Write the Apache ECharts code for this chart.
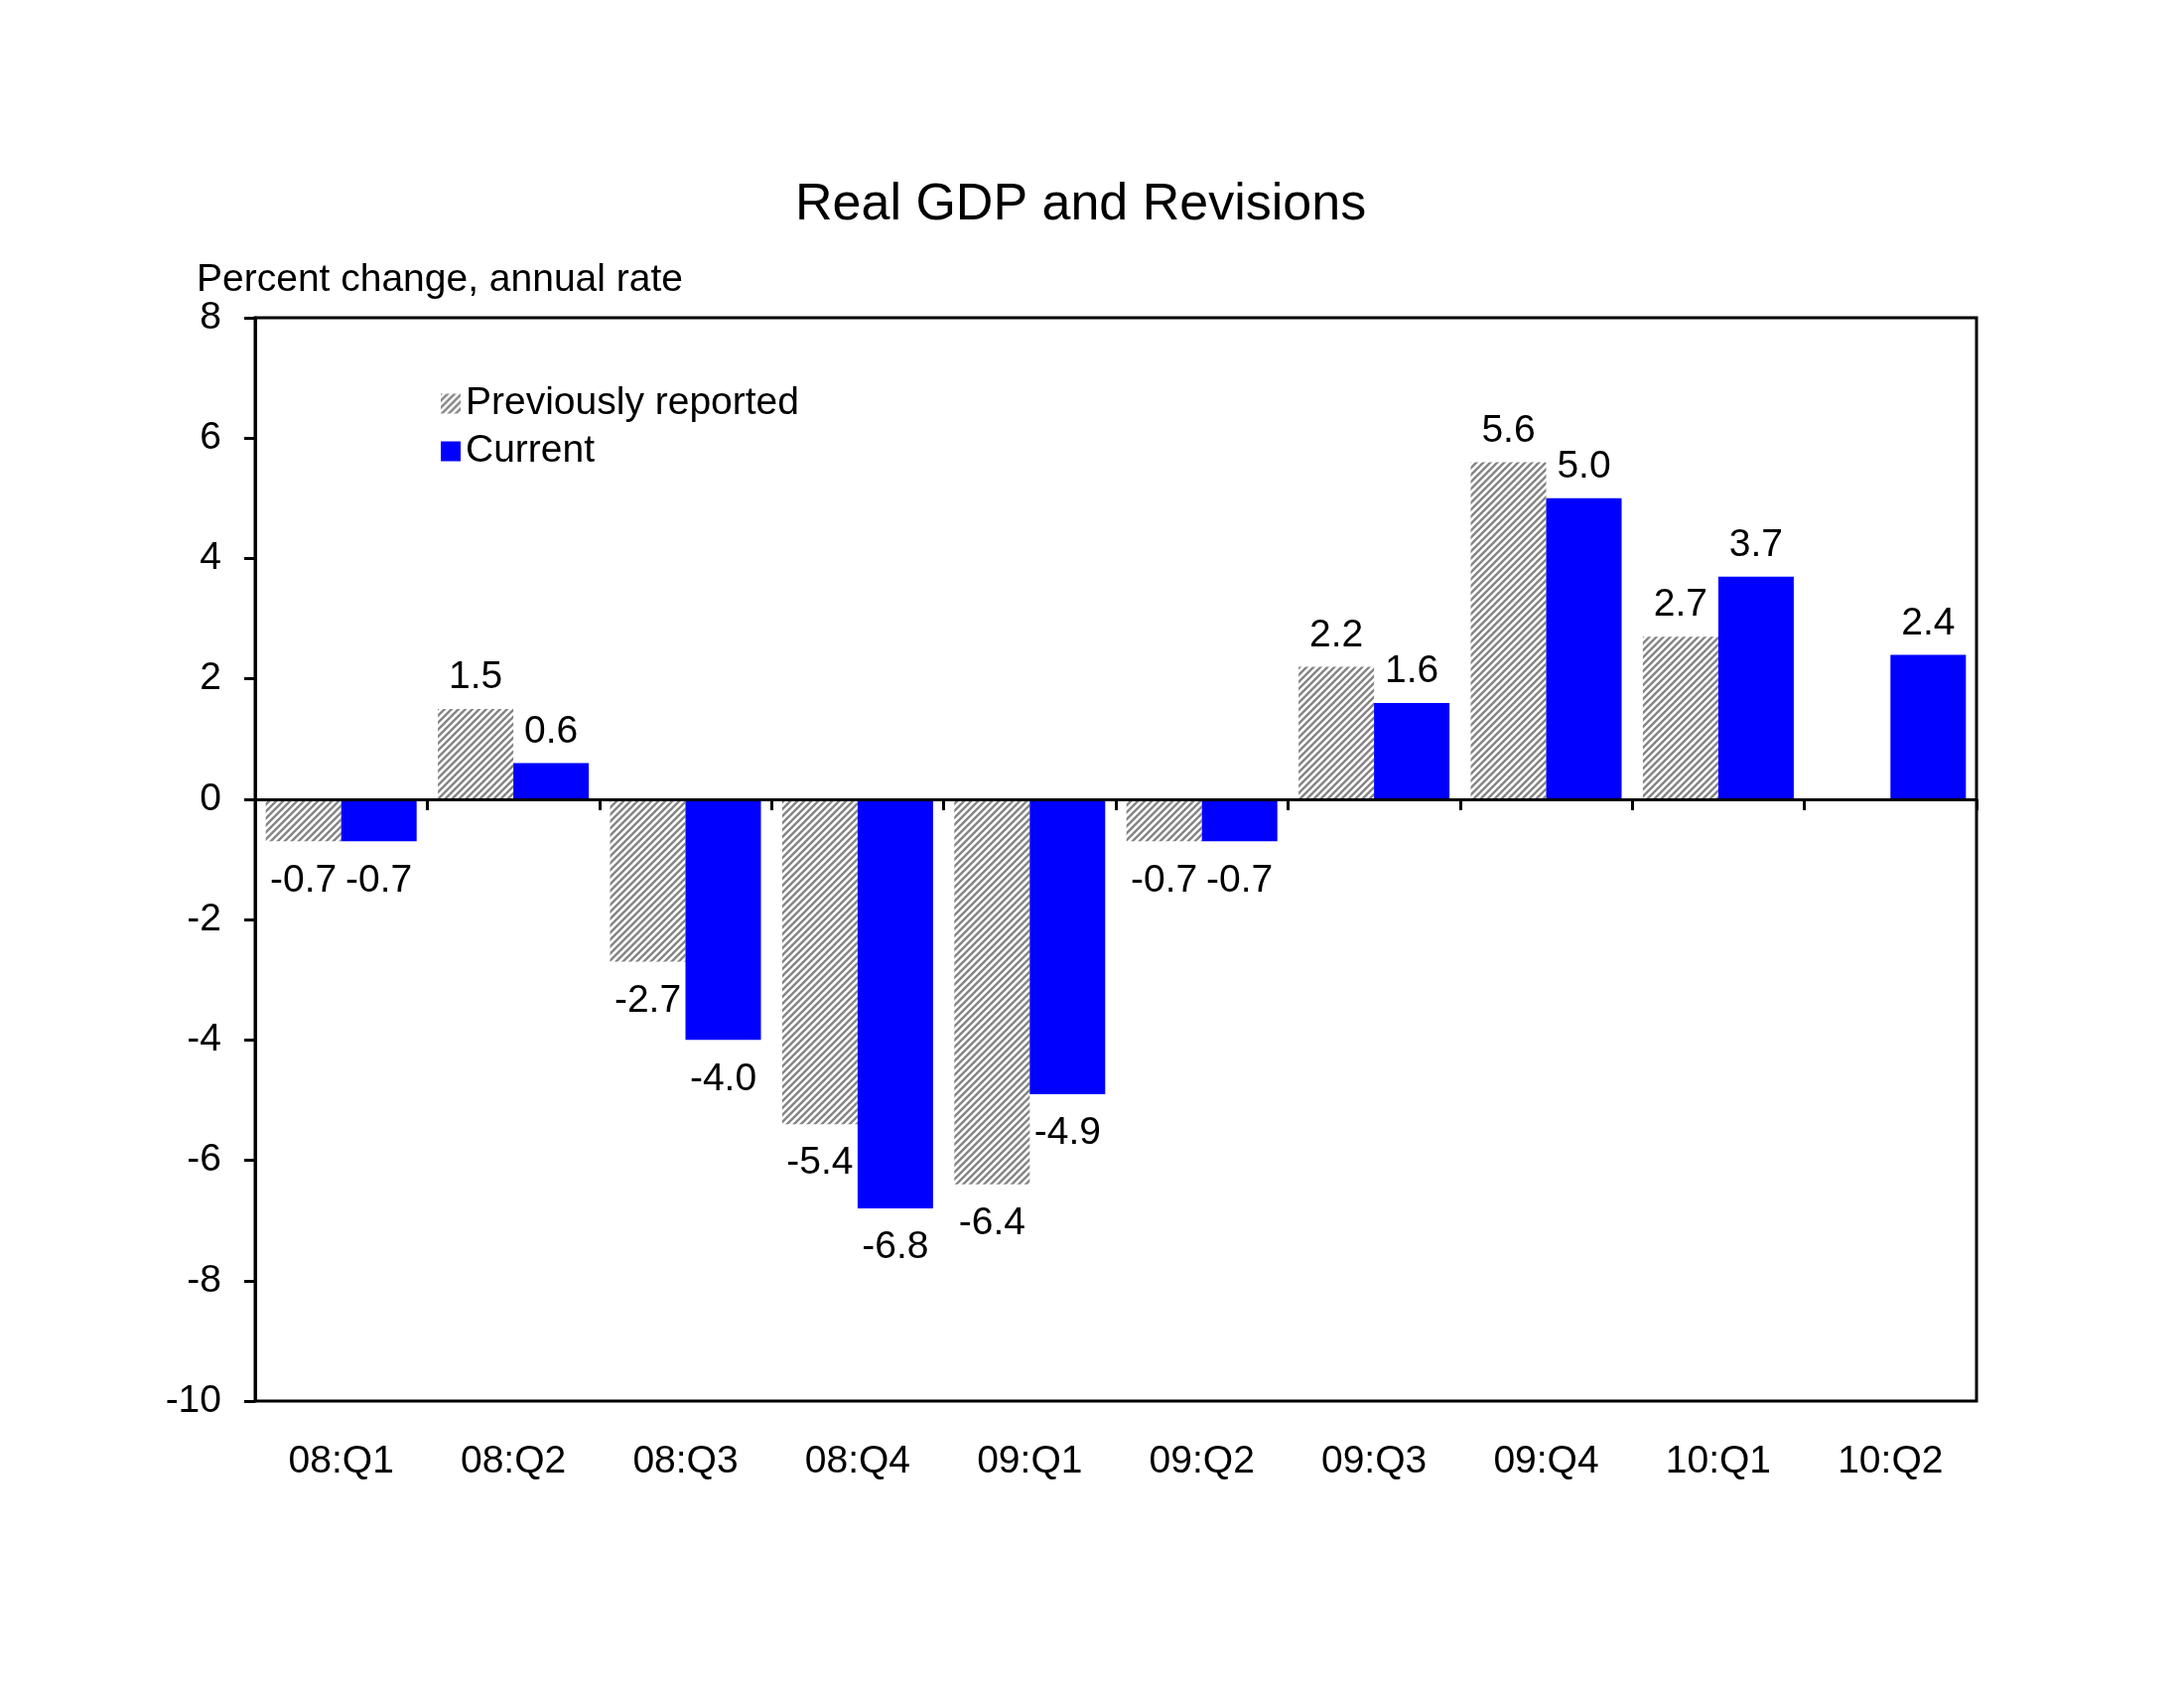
<!DOCTYPE html>
<html>
<head>
<meta charset="utf-8">
<script src="https://cdn.jsdelivr.net/npm/echarts@6/dist/echarts.min.js"></script>
<style>
html,body{margin:0;padding:0;background:#fff;}
#c{width:2200px;height:1700px;}
</style>
</head>
<body>
<div id="c"></div>
<script>
const categories = ['08:Q1','08:Q2','08:Q3','08:Q4','09:Q1','09:Q2','09:Q3','09:Q4','10:Q1','10:Q2'];
const previous = [-0.7, 1.5, -2.7, -5.4, -6.4, -0.7, 2.2, 5.6, 2.7, null];
const current = [-0.7, 0.6, -4.0, -6.8, -4.9, -0.7, 1.6, 5.0, 3.7, 2.4];
const yTicks = [-10, -8, -6, -4, -2, 0, 2, 4, 6, 8];

const FONT = 'Liberation Sans, Arial, sans-serif';

function hatch() {
  const s = 7;
  const cv = document.createElement('canvas');
  cv.width = s; cv.height = s;
  const ctx = cv.getContext('2d');
  ctx.fillStyle = '#ffffff';
  ctx.fillRect(0, 0, s, s);
  ctx.strokeStyle = '#858585';
  ctx.lineWidth = 2.4;
  ctx.beginPath();
  ctx.moveTo(-1, 1); ctx.lineTo(1, -1);
  ctx.moveTo(0, s); ctx.lineTo(s, 0);
  ctx.moveTo(s - 1, s + 1); ctx.lineTo(s + 1, s - 1);
  ctx.stroke();
  return { image: cv, repeat: 'repeat' };
}

function toItems(arr) {
  return arr.map(v => {
    if (v === null) return { value: null, label: { show: false } };
    return {
      value: v,
      label: { position: v >= 0 ? 'top' : 'bottom', distance: v >= 0 ? 12 : 20 }
    };
  });
}

const labelStyle = {
  show: true,
  color: '#000',
  fontFamily: FONT,
  fontSize: 39,
  formatter: p => p.value == null ? '' : Number(p.value).toFixed(1)
};

const chart = echarts.init(document.getElementById('c'), null, { renderer: 'canvas' });
chart.setOption({
  backgroundColor: '#ffffff',
  animation: false,
  textStyle: { fontFamily: FONT },
  graphic: [
    { type: 'text', left: 1092 - 291, top: 203 - 22,
      style: { text: 'Real GDP and Revisions', font: '52px ' + FONT, fill: '#000' } },
    { type: 'text', left: 198, top: 279 - 16,
      style: { text: 'Percent change, annual rate', font: '39px ' + FONT, fill: '#000' } }
  ],
  legend: {
    orient: 'vertical',
    left: 439,
    top: 382,
    itemWidth: 20,
    itemHeight: 20,
    itemGap: 9,
    icon: 'rect',
    textStyle: { fontFamily: FONT, fontSize: 39, lineHeight: 39, color: '#000' },
    data: ['Previously reported', 'Current']
  },
  grid: {
    left: 257, right: 209, top: 320, bottom: 289,
    show: true, borderColor: '#000', borderWidth: 3, backgroundColor: 'transparent'
  },
  xAxis: {
    type: 'category',
    data: categories,
    boundaryGap: true,
    axisLine: { show: true, lineStyle: { color: '#000', width: 3 } },
    axisTick: { show: true, inside: false, length: 11, lineStyle: { color: '#000', width: 3 } },
    axisLabel: { color: '#000', fontFamily: FONT, fontSize: 39, margin: 42, interval: 0 },
    splitLine: { show: false }
  },
  yAxis: {
    type: 'value',
    min: yTicks[0],
    max: yTicks[yTicks.length - 1],
    interval: 2,
    axisLine: { show: true, lineStyle: { color: '#000', width: 3 } },
    axisTick: { show: true, inside: false, length: 11, lineStyle: { color: '#000', width: 3 } },
    axisLabel: { color: '#000', fontFamily: FONT, fontSize: 39, margin: 34 },
    splitLine: { show: false }
  },
  series: [
    {
      name: 'Previously reported',
      type: 'bar',
      barWidth: 76,
      barGap: '0%',
      itemStyle: { color: hatch() },
      label: labelStyle,
      data: toItems(previous),
      markLine: {
        silent: true,
        symbol: ['none', 'none'],
        label: { show: false },
        lineStyle: { color: '#000', width: 3, type: 'solid' },
        data: [{ yAxis: 0 }]
      },
      z: 2
    },
    {
      name: 'Current',
      type: 'bar',
      barWidth: 76,
      barGap: '0%',
      itemStyle: { color: '#0000ff' },
      label: labelStyle,
      data: toItems(current),
      z: 2
    }
  ]
});
</script>
</body>
</html>
